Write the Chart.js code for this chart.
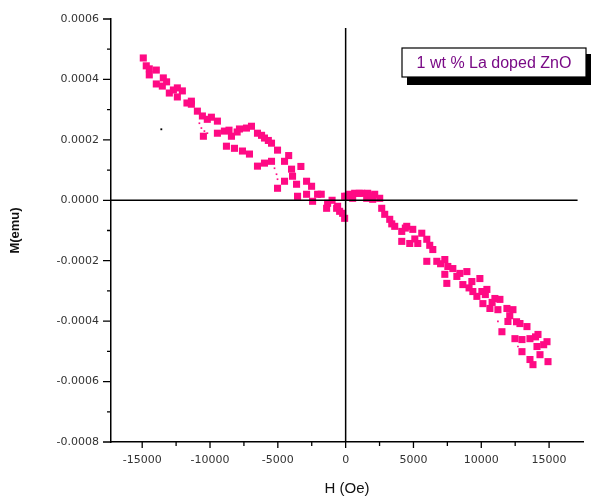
<!DOCTYPE html>
<html>
<head>
<meta charset="utf-8">
<script src="https://cdn.jsdelivr.net/npm/chart.js@4.4.0/dist/chart.umd.min.js"></script>
<style>
  html, body { margin: 0; padding: 0; background: #fff; }
  #wrap { width: 609px; height: 498px; }
</style>
</head>
<body>
<div id="wrap"><canvas id="mh_loop" width="609" height="498"></canvas></div>
<script>
// tick labels
const xTicks = [-15000, -10000, -5000, 0, 5000, 10000, 15000];
const yTicks = [-0.0008, -0.0006, -0.0004, -0.0002, 0, 0.0002, 0.0004, 0.0006];

// H (Oe) / M (emu)
const hField = [
  -14920, -14477, -13960, -14477, -13443, -13960, -13516, -13000, -12408, -12408,
  -12039, -11374, -11374, -10931, -10562, -9897, -9454, -10488, -9454, -8937,
  -8420, -7829, -7312, -6943, -6500, -5983, -5466, -5022, -8789, -8198,
  -7608, -7091, -6500, -5983, -5466, -4505, -3988, -3915, -4505, -5022,
  -3619, -2881, -2511, -3545, -2881, -2068, -2437, -1329, -1403, -665,
  -443, 74, -74, -591, -222, -74, 295, 665, 1182, 1625,
  2142, 2511, 517, 1551, 1994, 2659, 2881, 3250, 3619, 4136,
  4505, 4949, 5613, 5983, 4136, 4727, 5318, 6426, 5983, 6721,
  7312, 7534, 7903, 7312, 8420, 8937, 7460, 8642, 9306, 9897,
  9380, 10045, 10414, 9676, 10119, 10636, 11005, 11374, 11227, 11891,
  12335, 11965, 12852, 13369, 11522, 12482, 13000, 13590, 14181, 14846,
  14107, 13000, 14329, 13590, 14920, 13812,
  -14700, -13200, -12700, -11700, -10200, -8600, -8000, -6200, -5700, -4200,
  -3300, -1800, -1000, 1000, 1900, 3400, 4400, 5100, 6200, 7000,
  8200, 9100, 10300, 10800, 12100, 12600, 14000, 14600
];
const moment = [
  0.000471, 0.000435, 0.000431, 0.000415, 0.000405, 0.000385, 0.000378, 0.000355, 0.000372, 0.000342,
  0.000362, 0.000328, 0.000318, 0.000295, 0.000279, 0.000275, 0.000262, 0.000212, 0.000222, 0.000229,
  0.000212, 0.000236, 0.000239, 0.000245, 0.000222, 0.000206, 0.000189, 0.000166, 0.000179, 0.000172,
  0.000163, 0.000153, 0.000113, 0.000123, 0.000129, 0.000129, 0.000103, 0.0000796, 0.000063, 0.0000398,
  0.0000531, 0.000063, 0.0000464, 0.0000133, 0.0000199, 0.0000199, -0.0000033, -0.00001, -0.0000265, -0.0000265,
  -0.0000365, 0.0000133, -0.0000597, -0.0000199, -0.0000431, 0.0000133, 0.0000199, 0.0000232, 0.0000232, 0.0000232,
  0.0000199, 0.0000066, 0.0000066, 0.0000066, 0.0000033, -0.0000265, -0.0000464, -0.000063, -0.0000862, -0.000103,
  -0.0000862, -0.0000962, -0.000109, -0.000129, -0.000136, -0.000143, -0.000143, -0.000163, -0.000202, -0.000202,
  -0.000196, -0.000219, -0.000226, -0.000245, -0.000242, -0.000236, -0.000275, -0.000279, -0.000269, -0.000259,
  -0.000302, -0.000302, -0.000295, -0.000318, -0.000342, -0.000358, -0.000325, -0.000328, -0.000362, -0.000358,
  -0.000362, -0.000401, -0.000408, -0.000418, -0.000435, -0.000458, -0.000461, -0.000458, -0.000444, -0.000468,
  -0.000484, -0.000501, -0.000511, -0.000527, -0.000534, -0.000544,
  0.000445, 0.000392, 0.000365, 0.000322, 0.000268, 0.000232, 0.000226, 0.000215, 0.000198, 0.000148,
  0.000112, 0.000020, 0.000000, 0.000023, 0.000015, -0.000078, -0.000092, -0.000128, -0.000149, -0.000210,
  -0.000252, -0.000290, -0.000312, -0.000338, -0.000382, -0.000402, -0.000452, -0.000478
];

// the thin trails of small dots between the squares
const hDots = [-10784, -10636, -10414, -10193, -5244, -5096, -5022, 2511, 2733, 11227, 12704];
const mDots = [0.000255, 0.000239, 0.000229, 0.000222, 0.000106, 0.0000862, 0.0000697, -0.0000199, -0.0000365, -0.000401, -0.000484];

// stray black dot
const hStray = [-13590];
const mStray = [0.000235];

const legendLabel = '1 wt % La doped ZnO';

function pairs(xs, ys){
    let out = []
    for(let i=0;i<xs.length;i++){
        out.push({x: xs[i], y: ys[i]})
    }
    return out
}

function midpoints(arr){
    let out = []
    for(let i=0;i<arr.length-1;i++){
        out.push((arr[i]+arr[i+1])/2)
    }
    return out
}

const tickFont = {family: 'DejaVu Sans', size: 11};

// minor ticks, zero cross lines and the label box
const decorPlugin = {
    id: 'decor',
    afterDatasetsDraw(chart){
        const ctx = chart.ctx
        const xs = chart.scales.x
        const ys = chart.scales.y
        const area = chart.chartArea
        ctx.save()
        ctx.strokeStyle = '#000'
        ctx.lineWidth = 1.5

        // cross lines through zero
        ctx.beginPath()
        ctx.moveTo(xs.getPixelForValue(0), ys.getPixelForValue(0.00057))
        ctx.lineTo(xs.getPixelForValue(0), area.bottom)
        ctx.moveTo(area.left, ys.getPixelForValue(0))
        ctx.lineTo(xs.getPixelForValue(17100), ys.getPixelForValue(0))
        ctx.stroke()

        // tick marks
        ctx.lineWidth = 1.3
        ctx.beginPath()
        xTicks.forEach(v => {
            const px = xs.getPixelForValue(v)
            ctx.moveTo(px, area.bottom); ctx.lineTo(px, area.bottom + 6)
        })
        midpoints(xTicks).forEach(v => {
            const px = xs.getPixelForValue(v)
            ctx.moveTo(px, area.bottom); ctx.lineTo(px, area.bottom + 4)
        })
        yTicks.forEach(v => {
            const py = ys.getPixelForValue(v)
            ctx.moveTo(area.left, py); ctx.lineTo(area.left - 8, py)
        })
        midpoints(yTicks).forEach(v => {
            const py = ys.getPixelForValue(v)
            ctx.moveTo(area.left, py); ctx.lineTo(area.left - 4, py)
        })
        ctx.stroke()

        // label box with shadow
        const bx = 402, by = 48, bw = 184, bh = 29
        ctx.fillStyle = '#000'
        ctx.fillRect(bx + 5, by + 6, bw, bh + 2)
        ctx.fillStyle = '#fff'
        ctx.fillRect(bx, by, bw, bh)
        ctx.lineWidth = 1.2
        ctx.strokeRect(bx, by, bw, bh)
        ctx.fillStyle = '#7a0a86'
        ctx.font = '16px "Liberation Sans"'
        ctx.textAlign = 'center'
        ctx.textBaseline = 'middle'
        ctx.fillText(legendLabel, bx + bw/2, by + bh/2 + 1)
        ctx.restore()
    }
}

const ctx = document.getElementById('mh_loop').getContext('2d');
const myChart = new Chart(ctx, {
    type: 'scatter',
    data: {
        datasets: [{
            label: legendLabel,
            data: pairs(hField, moment),
            pointStyle: 'rect',
            pointRadius: 5,
            pointHoverRadius: 5,
            backgroundColor: '#ff0a84',
            borderWidth: 0
        },{
            label: 'trail',
            data: pairs(hDots, mDots),
            pointStyle: 'rect',
            pointRadius: 1.2,
            backgroundColor: '#ff0a84',
            borderWidth: 0
        },{
            label: 'stray',
            data: pairs(hStray, mStray),
            pointStyle: 'rect',
            pointRadius: 1.3,
            backgroundColor: '#000',
            borderWidth: 0
        }]
    },
    options: {
        responsive: false,
        animation: false,
        devicePixelRatio: 1,
        layout: { padding: { top: 19, right: 26, bottom: 0, left: 0 } },
        plugins: {
            legend: { display: false },
            tooltip: { enabled: false }
        },
        scales: {
            x: {
                type: 'linear',
                min: -17300,
                max: 17500,
                afterBuildTicks: s => { s.ticks = xTicks.map(v => ({value: v})) },
                afterFit: s => { s.height = 56 },
                ticks: {
                    callback: v => String(v),
                    font: tickFont,
                    color: '#333',
                    padding: 12,
                    autoSkip: false,
                    maxRotation: 0
                },
                grid: { display: false, drawTicks: false },
                border: { display: true, color: '#000', width: 1.5 },
                title: {
                    display: true,
                    text: 'H (Oe)',
                    font: { family: 'Liberation Sans', size: 15 },
                    color: '#111',
                    padding: { top: 0, bottom: 0 }
                }
            },
            y: {
                type: 'linear',
                min: -0.0008,
                max: 0.0006,
                afterBuildTicks: s => { s.ticks = yTicks.map(v => ({value: v})) },
                afterFit: s => { s.width = 111 },
                ticks: {
                    callback: v => v.toFixed(4),
                    font: tickFont,
                    color: '#333',
                    padding: 12,
                    autoSkip: false
                },
                grid: { display: false, drawTicks: false },
                border: { display: true, color: '#000', width: 1.5 },
                title: {
                    display: true,
                    text: 'M(emu)',
                    font: { family: 'Liberation Sans', size: 13, weight: 'bold' },
                    color: '#111',
                    padding: { top: 8, bottom: 0 }
                }
            }
        }
    },
    plugins: [decorPlugin]
});
</script>
</body>
</html>
